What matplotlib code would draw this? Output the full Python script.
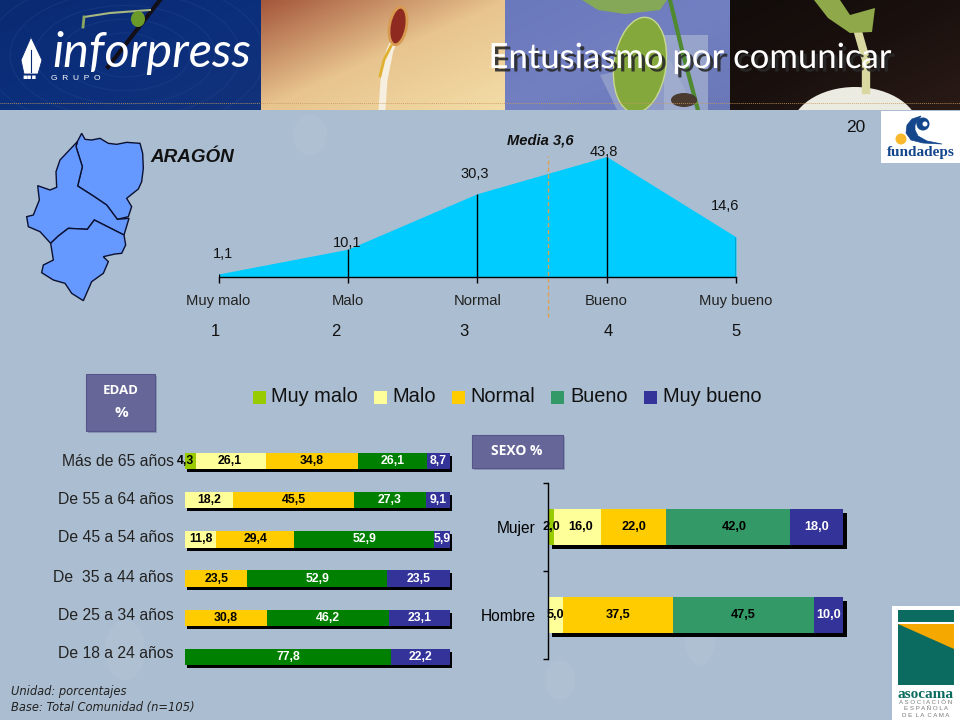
import numpy as np
import matplotlib
matplotlib.use("Agg")
import matplotlib.pyplot as plt
import matplotlib.patheffects as pe
from matplotlib.patches import Rectangle, Polygon, Ellipse, Circle
from matplotlib.transforms import offset_copy

# scale of the area chart
escala = ["Muy malo", "Malo", "Normal", "Bueno", "Muy bueno"]
aragon = [1.1, 10.1, 30.3, 43.8, 14.6]
media_pos = 2.55

# edad chart, one list per answer
edades = ["Más de 65 años", "De 55 a 64 años", "De 45 a 54 años",
          "De  35 a 44 años", "De 25 a 34 años", "De 18 a 24 años"]
edad_muy_malo = [4.3, 0, 0, 0, 0, 0]
edad_malo = [26.1, 18.2, 11.8, 0, 0, 0]
edad_normal = [34.8, 45.5, 29.4, 23.5, 30.8, 0]
edad_bueno = [26.1, 27.3, 52.9, 52.9, 46.2, 77.8]
edad_muy_bueno = [8.7, 9.1, 5.9, 23.5, 23.1, 22.2]

# sexo chart
sexos = ["Mujer", "Hombre"]
sexo_muy_malo = [2.0, 0]
sexo_malo = [16.0, 5.0]
sexo_normal = [22.0, 37.5]
sexo_bueno = [42.0, 47.5]
sexo_muy_bueno = [18.0, 10.0]

BG = "#abbdd0"
plt.rcParams["font.family"] = ["Liberation Sans", "DejaVu Sans"]

fig = plt.figure(figsize=(9.6, 7.2), dpi=100, facecolor=BG)


def px_axes(x0, y0, x1, y1):
    # axes placed with pixel coords, y from the top of the image
    a = fig.add_axes([x0 / 960, 1 - y1 / 720, (x1 - x0) / 960, (y1 - y0) / 720])
    a.patch.set_alpha(0)
    return a


# background layer in pixels
bg = px_axes(0, 0, 960, 720)
bg.set_xlim(0, 960)
bg.set_ylim(720, 0)
bg.axis("off")

# faint watermarks on the slide
for cx, cy, w, h in ((310, 135, 34, 40), (125, 650, 40, 60), (560, 680, 30, 40), (700, 640, 30, 50)):
    bg.add_patch(Ellipse((cx, cy), w, h, fc="white", alpha=.05, zorder=1))

# header photos, clipped by their own axes
hdr = px_axes(0, 0, 960, 110)
hdr.axis("off")


def panel(x0, x1, c_a, c_b, c_c, z):
    # photo stand-in, gradient from left-top to right-bottom
    xx, yy = np.meshgrid(np.linspace(0, 1, 60), np.linspace(0, 1, 30))
    t = (xx + yy)[..., None] / 2
    a, b, c = [np.array(matplotlib.colors.to_rgb(k)) for k in (c_a, c_b, c_c)]
    img = np.where(t < .5, a + (b - a) * t * 2, b + (c - b) * (t - .5) * 2)
    hdr.imshow(img, extent=(x0, x1, 110, 0), aspect="auto", zorder=z, interpolation="bilinear")


panel(0, 261, "#0a2a72", "#0c2f7c", "#12327a", 1)
panel(261, 505, "#a5583c", "#e8c48e", "#f3dca6", 3)
panel(505, 730, "#6a78bc", "#7280c2", "#6a78b8", 3)
panel(730, 960, "#120c0a", "#1a110e", "#2a1a16", 3)
hdr.set_xlim(0, 960)
hdr.set_ylim(110, 0)

# ripples and sprout in the first photo
for r in (40, 65, 90, 115, 140):
    hdr.add_patch(Ellipse((125, 55), r * 2, r * 1.1, fc="none", ec="#23468e", lw=.8, alpha=.4, zorder=2))
hdr.plot([160, 108], [0, 67], color="#120f18", lw=3, zorder=4)
hdr.plot([84, 110, 150], [17, 13, 10], color="#a8b880", lw=1.5, zorder=4)
hdr.plot([84, 83], [17, 27], color="#8aa860", lw=2, zorder=4)
hdr.add_patch(Ellipse((138, 19), 14, 16, fc="#6c9a2a", zorder=4))

# seed
hdr.plot([382, 384, 390, 397], [110, 80, 50, 35], color="#f6efe0", lw=5, zorder=4)
hdr.add_patch(Ellipse((398, 26), 17, 38, angle=10, fc="#8e2a20", ec="#d89a50", lw=2, zorder=4))
hdr.plot([391, 384, 380], [46, 60, 76], color="#e0b030", lw=2, zorder=4)

# plant in glass
hdr.add_patch(Polygon([(600, 75), (670, 60), (695, 110), (617, 110)], fc="#8e9ac8", zorder=4))
hdr.add_patch(Rectangle((664, 35), 44, 75, fc="#a8b4d0", alpha=.7, zorder=4))
hdr.add_patch(Ellipse((640, 65), 52, 96, angle=8, fc="#84a83c", ec="#c8d890", lw=1, zorder=5))
hdr.add_patch(Polygon([(582, 0), (667, 0), (660, 10), (625, 14), (598, 10)], fc="#84a858", zorder=5))
hdr.plot([670, 682, 698], [0, 50, 110], color="#4f8a30", lw=3, zorder=6)
hdr.add_patch(Ellipse((684, 100), 26, 14, fc="#4a3a30", zorder=6))

# egg and sprout
hdr.add_patch(Ellipse((855, 132), 130, 90, fc="#ecebe2", zorder=4))
hdr.plot([866, 866, 858], [90, 60, 32], color="#d9d8a0", lw=6, zorder=5)
hdr.add_patch(Polygon([(814, 0), (840, 0), (850, 15), (875, 8), (872, 32), (850, 33), (828, 18)],
                      fc="#8fa84a", zorder=5))

# dotted line over the photos
hdr.plot([0, 960], [103, 103], color="#c89a5c", lw=.7, ls=(0, (1, 1)), alpha=.8, zorder=7)

# inforpress logo
hdr.add_patch(Polygon([(31, 37), (42, 60), (38, 74), (24, 74), (21, 60)], fc="white", ec="#0a2a72", lw=.6, zorder=8))
hdr.plot([31, 31], [50, 72], color="#0a2a72", lw=.8, zorder=9)
hdr.text(52, 67, "inforpress", color="white", family="Lato", style="italic",
         fontsize=35, va="baseline", ha="left", zorder=8)
hdr.text(51, 79, "G  R  U  P  O", color="white", fontsize=6, va="center", ha="left", zorder=8)
hdr.text(22, 77, "▪▪▪", color="white", fontsize=5, va="center", ha="left", family="DejaVu Sans", zorder=8)

# title
hdr.text(690.5, 58, "Entusiasmo por comunicar", color="white", family="Lato", fontsize=25,
         ha="center", va="center", zorder=9,
         path_effects=[pe.SimplePatchShadow(offset=(2.5, -2.5), shadow_rgbFace="#2a2a2a", alpha=.9), pe.Normal()])

bg.text(856, 127, "20", fontsize=12.5, ha="center", va="center", color="#111111", zorder=6)

# fundadeps logo
bg.add_patch(Rectangle((881, 111), 79, 52, fc="white", zorder=5))
bg.add_patch(Circle((901, 139), 5.5, fc="#f8b92c", zorder=6))
crescent = [(921, 116), (912, 119), (907, 125), (906, 133), (911, 140), (923, 143), (942, 144),
            (927, 141), (918, 136), (915, 130), (915, 125)]
bg.add_patch(Polygon(crescent, fc="#14468c", ec="#14468c", lw=.5, zorder=6))
bg.add_patch(Circle((923, 124), 6.5, fc="#14468c", zorder=6))
bg.add_patch(Circle((925, 124), 2.5, fc="white", zorder=7))
bg.text(920.5, 152.5, "fundadeps", color="#14468c", family="Liberation Serif", weight="bold",
        fontsize=11, ha="center", va="center", zorder=7)

# asocama logo
bg.add_patch(Rectangle((892, 606), 68, 114, fc="white", zorder=5))
bg.add_patch(Rectangle((898, 610), 56, 12, fc="#0b6b60", zorder=6))
bg.add_patch(Rectangle((898, 624), 56, 61, fc="#0b6b60", zorder=6))
bg.add_patch(Polygon([(898, 624), (954, 624), (954, 649)], fc="#f5a800", zorder=7))
bg.text(926, 694, "asocama", color="#0b6b60", family="Liberation Serif", weight="bold",
        fontsize=11, ha="center", va="center", zorder=7)
for y_txt, txt in zip((702.5, 709, 715.5), ("A S O C I A C I Ó N", "E S P A Ñ O L A", "D E  L A  C A M A")):
    bg.text(926, y_txt, txt, color="#777777", fontsize=4.4, ha="center", va="center", zorder=7)

# map of Aragon (zoom coords /3)
huesca = [(232, 95), (245, 70), (255, 88), (275, 90), (300, 85), (325, 100), (350, 103), (380, 97), (420, 100),
          (428, 130), (430, 175), (425, 215), (415, 237), (380, 265), (395, 290), (385, 320), (352, 328),
          (320, 285), (280, 258), (233, 228), (247, 170), (228, 110)]
zaragoza = [(232, 95), (228, 110), (247, 170), (233, 228), (280, 258), (320, 285), (352, 328), (387, 325),
            (372, 375), (283, 330), (262, 358), (205, 355), (175, 378), (152, 400), (120, 365), (85, 350),
            (80, 320), (100, 315), (118, 270), (113, 227), (150, 240), (170, 232), (168, 185), (180, 150)]
teruel = [(152, 400), (175, 378), (205, 355), (262, 358), (283, 330), (372, 375), (377, 405), (365, 430),
          (345, 432), (310, 440), (325, 455), (310, 490), (275, 515), (250, 572), (215, 550), (195, 520),
          (160, 510), (125, 488), (130, 465), (160, 450)]
for prov in (huesca, zaragoza, teruel):
    pts = [(px / 3, 110 + py / 3) for px, py in prov]
    bg.add_patch(Polygon(pts, fc="#6699ff", ec="#0b1030", lw=1, zorder=3))

bg.text(150, 157, "ARAGÓN", fontsize=13.6, weight="bold", style="italic", color="#111111", va="center")

# boxes
for bx, by, w, h in ((86, 374, 69, 57), (472, 435, 91, 33)):
    bg.add_patch(Rectangle((bx + 2, by + 2), w, h, fc="#8a97b4", zorder=2))
    bg.add_patch(Rectangle((bx, by), w, h, fc="#666699", ec="#55558a", lw=.8, zorder=3))
bg.text(121, 390, "EDAD", color="white", weight="bold", family="Open Sans", fontsize=9.5, ha="center", va="center", zorder=4)
bg.text(121, 413, "%", color="white", weight="bold", family="Open Sans", fontsize=11, ha="center", va="center", zorder=4)
bg.text(517, 451, "SEXO %", color="white", weight="bold", family="Open Sans", fontsize=10, ha="center", va="center", zorder=4)

# legend
leg_colors = ["#99cc00", "#ffff99", "#ffcc00", "#339966", "#333399"]
sw_x = [253, 374, 452, 551, 644]
txt_x = [271, 392, 470, 570, 663]
for lab, col, sx, tx in zip(escala, leg_colors, sw_x, txt_x):
    bg.add_patch(Rectangle((sx, 391), 13, 13, fc=col, zorder=3))
    bg.text(tx, 396.5, lab, fontsize=14.4, va="center", ha="left", color="#111111")

# numbers under the scale
for n, nx in zip(range(1, 6), (215, 336, 464, 608, 736)):
    bg.text(nx, 331, str(n), fontsize=12, ha="center", va="center", color="#111111")

# footnote
bg.text(11, 691, "Unidad: porcentajes", family="DejaVu Sans", style="italic", fontsize=8.3,
        va="center", color="#222222")
bg.text(11, 707, "Base: Total Comunidad (n=105)", family="DejaVu Sans", style="italic", fontsize=8.3,
        va="center", color="#222222")

# area chart
ax = px_axes(218.5, 139, 736, 277)
x = np.arange(len(escala))
ax.fill_between(x, 0, aragon, color="#00ccff", lw=0, zorder=2)
ax.vlines(x, 0, aragon, color="black", lw=1, zorder=3)
ax.axvline(media_pos, ymin=-.29, ymax=.88, clip_on=False, color="#e0a050", lw=1, ls=(0, (3, 2)), zorder=4)
ax.set_xlim(0, 4)
ax.set_ylim(0, 138 / 2.75)
ax.set_xticks(x)
ax.set_xticklabels(escala, fontsize=10.6, color="#222222")
ax.tick_params(axis="x", length=4.3, width=1, pad=8)
ax.set_yticks([])
for s in ("top", "left", "right"):
    ax.spines[s].set_visible(False)
ax.spines["bottom"].set_linewidth(1)
lab_off = [(4, 20), (-1, 6), (-3, 20), (-3, 5), (-11, 31)]
for xi, v, off in zip(x, aragon, lab_off):
    ax.annotate(f"{v:.1f}".replace(".", ","), (xi, v), xytext=(off[0] * .72, off[1] * .72),
                textcoords="offset points", ha="center", va="center", fontsize=10.5, color="#111111")
ax.text(2.49, 49.5, "Media 3,6", fontsize=10.6, weight="bold", style="italic", ha="center", va="center",
        color="#111111", clip_on=False)


def stacked(a, cats, series, colors, txt_colors, shadow, fontsize, height, nudges):
    # horizontal 100% bars with a black offset shadow underneath
    pos = np.arange(len(cats))
    totals = np.sum(series, axis=0)
    tr = offset_copy(a.transData, fig=fig, x=shadow[0] * .72, y=-shadow[1] * .72, units="points")
    a.barh(pos, totals, height=height, color="black", transform=tr, zorder=1, clip_on=False)
    left = np.zeros(len(cats))
    for s, (vals, col, tc) in enumerate(zip(series, colors, txt_colors)):
        a.barh(pos, vals, left=left, height=height, color=col, lw=0, zorder=2, clip_on=False)
        for i, v in enumerate(vals):
            if v > 0:
                dx = nudges.get((i, s), 0)
                a.text(left[i] + v / 2 + dx, pos[i], f"{v:.1f}".replace(".", ","), color=tc, weight="bold",
                       fontsize=fontsize, ha="center", va="center", zorder=5, clip_on=False)
        left += np.array(vals)
    a.set_xlim(0, 100)


# edad: rows are 39.2 px apart
ax2 = px_axes(185, 441.4, 450, 676.6)
stacked(ax2, edades, [edad_muy_malo, edad_malo, edad_normal, edad_bueno, edad_muy_bueno],
        ["#99cc00", "#ffff99", "#ffcc00", "#008000", "#333399"],
        ["black", "black", "black", "white", "white"],
        (2, 3), 8.8, .42, {(0, 0): -1.8, (0, 1): -.3})
ax2.set_ylim(5.5, -.5)
ax2.axis("off")
for lab, y_lab in zip(edades, (462, 500, 538, 577.5, 615, 653)):
    bg.text(173.5, y_lab, lab, fontsize=11.3, ha="right", va="center", color="#222222")

# sexo
ax3 = px_axes(548, 483, 843, 659)
stacked(ax3, sexos, [sexo_muy_malo, sexo_malo, sexo_normal, sexo_bueno, sexo_muy_bueno],
        ["#99cc00", "#ffff99", "#ffcc00", "#339966", "#333399"],
        ["black", "black", "black", "black", "white"],
        (4, 4), 9.2, .41, {(0, 1): 1.2, (0, 3): 2.2})
ax3.set_ylim(1.5, -.5)
ax3.set_yticks([-.5, .5, 1.5])
ax3.set_yticklabels([])
ax3.set_yticks([0, 1], labels=sexos, minor=True)
ax3.tick_params(axis="y", which="major", length=3.6, width=1)
ax3.tick_params(axis="y", which="minor", length=0, pad=9, labelsize=11.2)
ax3.set_xticks([])
for s in ("top", "bottom", "right"):
    ax3.spines[s].set_visible(False)
ax3.spines["left"].set_linewidth(1)

fig.savefig("out.png", dpi=100, facecolor=BG)
